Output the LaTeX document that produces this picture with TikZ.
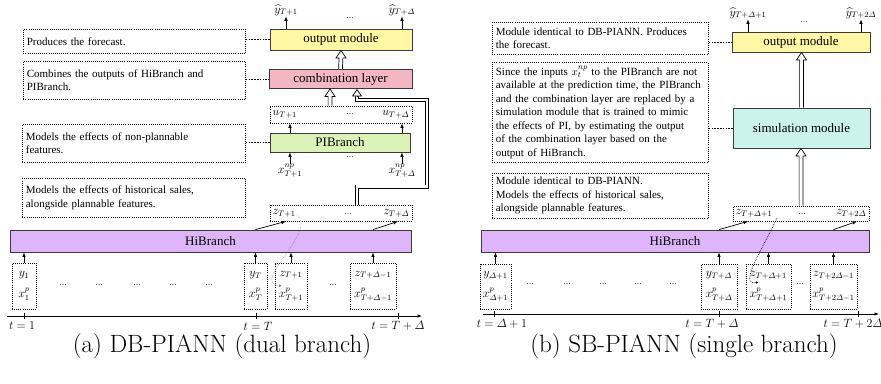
\documentclass[tikz,border=0pt]{standalone}
\usepackage{amsmath}
\usepackage{fontspec}
\newfontfamily\tms{Liberation Serif}
\usetikzlibrary{arrows.meta,calc}
\definecolor{cout}{HTML}{FFF7A3}
\definecolor{ccomb}{HTML}{F4B7C2}
\definecolor{cpib}{HTML}{DCF3B8}
\definecolor{chib}{HTML}{DDB5F8}
\definecolor{csim}{HTML}{CBF3EC}
\definecolor{edge}{HTML}{3A3A3A}
\newcommand\Dl{\varDelta}
% hollow upward arrow from coordinate #1 (tail) to coordinate #2 (tip)
\newcommand\hollowup[2]{%
  \fill[white] ($(#1)+(-1.9,0)$) -- ($(#2)+(-1.9,7.5)$) -- ($(#2)+(-5,7.5)$) -- (#2) -- ($(#2)+(5,7.5)$) -- ($(#2)+(1.9,7.5)$) -- ($(#1)+(1.9,0)$) -- cycle;
  \draw[line width=0.7pt, line join=miter] ($(#1)+(-1.9,0)$) -- ($(#2)+(-1.9,7.5)$) -- ($(#2)+(-5,7.5)$) -- (#2) -- ($(#2)+(5,7.5)$) -- ($(#2)+(1.9,7.5)$) -- ($(#1)+(1.9,0)$);}
\begin{document}
\begin{tikzpicture}[x=1pt,y=-1pt,
  mod/.style={draw=edge, line width=0.8pt, font=\tms\fontsize{13}{15}\selectfont, inner sep=0pt},
  desc/.style={draw=black, dash pattern=on 0.8pt off 1.3pt, line width=0.7pt, anchor=north west, align=left,
     inner xsep=3.5pt, inner ysep=0pt, font=\tms\fontsize{11}{13.5}\selectfont},
  grp/.style={draw=black, dash pattern=on 0.8pt off 1.3pt, line width=0.7pt, inner sep=0pt},
  inp/.style={grp, align=center, font=\fontsize{12}{21}\selectfont},
  lbl/.style={font=\fontsize{12}{14}\selectfont, inner sep=0.5pt},
  dots/.style={font=\tms\fontsize{10}{10}\selectfont, inner sep=0pt, text=black!70},
  arr/.style={-{Latex[length=4.5pt,width=3.5pt]}, line width=0.7pt},
  conn/.style={dash pattern=on 1.6pt off 1.2pt, line width=0.7pt},
  hshaft/.style={draw=black, double=white, double distance=2.4pt, line width=0.7pt},
  htip/.style={line width=0.7pt, -{Triangle[open, fill=white, width=10pt, length=7.5pt]}},
  captxt/.style={font=\fontsize{25}{30}\selectfont, inner sep=0pt}
]
\useasboundingbox (0,0) rectangle (881,383);

% ================= LEFT PANEL =================
\node[mod, fill=cout, minimum width=142pt, minimum height=21pt] (out) at (341,39.5) {output module};
\node[mod, fill=ccomb, minimum width=143pt, minimum height=19pt] (comb) at (340.5,79) {combination layer};
\node[grp, minimum width=142pt, minimum height=17pt] (ubox) at (341,114.5) {};
\node[mod, fill=cpib, minimum width=140pt, minimum height=19pt] (pib) at (340,142.5) {PIBranch};
\node[grp, minimum width=142pt, minimum height=16pt] (zbox) at (341,213) {};
\node[mod, fill=chib, minimum width=401pt, minimum height=22pt] (hib) at (210.5,241) {HiBranch};

% outputs
\node[lbl] (yh1) at (286,10) {$\widehat{y}_{T+1}$};
\node[lbl] (yh2) at (402,10) {$\widehat{y}_{T+\Dl}$};
\node[dots] (dt1) at (350,18) {...};
\draw[arr] (out.north -| yh1.south) -- (yh1.south);
\draw[arr] (out.north -| yh2.south) -- (yh2.south);

% u labels
\node[lbl, anchor=west] (ul1) at (272,114.5) {$u_{T+1}$};
\node[lbl, anchor=east] (ul2) at (410,114.5) {$u_{T+\Dl}$};
\node[dots] (dt2) at (350,114) {...};

% PIBranch inputs
\node[lbl] (xn1) at (290,171) {$x^{np}_{T+1}$};
\node[lbl] (xn2) at (402,171) {$x^{np}_{T+\Dl}$};
\node[dots] (dt3) at (350,157) {...};
\draw[arr] (xn1.north) -- (xn1.north |- pib.south);
\draw[arr] (xn2.north) -- (xn2.north |- pib.south);
\draw[arr] (xn1.north |- pib.north) -- (xn1.north |- ubox.south);
\draw[arr] (xn2.north |- pib.north) -- (xn2.north |- ubox.south);

% z labels
\node[lbl, anchor=west] (zl1) at (272,213) {$z_{T+1}$};
\node[lbl, anchor=east] (zl2) at (410,213) {$z_{T+\Dl}$};
\node[dots] (dt4) at (348,214) {...};

% input boxes
\node[inp, minimum width=24pt, minimum height=46pt] (b1) at (24,286) {$y_1$\\$x^p_1$};
\node[inp, minimum width=23pt, minimum height=46pt] (bT) at (255.5,286) {$y_T$\\$x^p_T$};
\node[inp, minimum width=32pt, minimum height=46pt] (bz1) at (291,286) {$z_{T+1}$\\$x^p_{T+1}$};
\node[inp, minimum width=46pt, minimum height=46pt] (bzD) at (373,286) {$z_{T+\Dl-1}$\\$x^p_{T+\Dl-1}$};
\foreach \xx/\nm in {63/a,99/b,137/c,173/d,209/e,333/f}{\node[dots] (bd\nm) at (\xx,285) {...};}
\foreach \bb in {b1,bT,bz1,bzD}{\draw[arr] (\bb.north) -- (\bb.north |- hib.south);}

% slanted arrows
\coordinate (za1) at ($(zbox.south)+(-55,0)$);
\coordinate (za2) at ($(zbox.south)+(57,0)$);
\draw[arr] (bT.north |- hib.north) -- (za1);
\draw[arr] (bzD.north |- hib.north) -- (za2);

% recurrent dotted curve
\coordinate (cs1) at (297,215);
\coordinate (ce1) at (282,286);
\draw[black!55, densely dotted, line width=0.5pt, -{Latex[length=3pt,width=2.5pt]}] (cs1) .. controls (318,232) and (250,282) .. (ce1);

% hollow arrows
\coordinate (cn) at (comb.north);
\coordinate (oh) at (out.south);
\hollowup{cn}{oh}
\coordinate (uh) at ($(ubox.north)+(-11,0)$);
\coordinate (uhe) at (uh |- comb.south);
\hollowup{uh}{uhe}
\coordinate (zh) at ($(zbox.north)+(16,0)$);
\coordinate (ch) at ($(comb.south)+(16.5,0)$);
\draw[hshaft] (zh) -- ++(0,-18) -- ++(70,0) |- ($(ch)+(0,11)$) -- ($(ch)+(0,7.5)$);
\draw[htip] ($(ch)+(0,7.5)$) -- (ch);

% axis
\coordinate (ax0) at (7,316);
\coordinate (ax1) at (422,316);
\draw[arr] (ax0) -- (ax1);
\foreach \xx in {24,256,398}{\draw[line width=0.5pt] (\xx,313) -- (\xx,319);}
\node[lbl] (t1) at (22,326) {$t=1$};
\node[lbl] (t2) at (258,326) {$t=T$};
\node[lbl] (t3) at (398,326) {$t=T+\Dl$};

% descriptions
\node[desc, text width=215pt, minimum height=24pt] (d1) at (23,29) {Produces the forecast.};
\node[desc, text width=215pt, minimum height=38pt] (d2) at (23,61) {Combines the outputs of HiBranch and\\PIBranch.};
\node[desc, text width=216pt, minimum height=38pt] (d3) at (22,124) {Models the effects of non-plannable\\features.};
\node[desc, text width=216pt, minimum height=39pt] (d4) at (22,178) {Models the effects of historical sales,\\alongside plannable features.};
\draw[conn] (d1.east |- out.west) -- (out.west);
\draw[conn] (d2.east |- comb.west) -- (comb.west);
\draw[conn] (d3.east |- pib.west) -- (pib.west);
\draw[conn] ($(d4.south)+(-5,0)$) -- ($(d4.south)+(-5,0)$ |- hib.north);

\node[captxt] (capa) at (222,346) {(a) DB-PIANN (dual branch)};

% ================= RIGHT PANEL =================
\node[mod, fill=cout, minimum width=138pt, minimum height=20pt] (rout) at (801,42) {output module};
\node[mod, fill=csim, minimum width=137pt, minimum height=40pt] (simmod) at (801.5,128) {simulation module};
\node[grp, minimum width=136pt, minimum height=15pt] (rzbox) at (801,213.5) {};
\node[mod, fill=chib, minimum width=388pt, minimum height=22pt] (rhib) at (675,241) {HiBranch};

\node[lbl] (ryh1) at (748,13) {$\widehat{y}_{T+\Dl+1}$};
\node[lbl] (ryh2) at (861,13) {$\widehat{y}_{T+2\Dl}$};
\node[dots] (rdt1) at (804,22) {...};
\draw[arr] (rout.north -| ryh1.south) -- (ryh1.south);
\draw[arr] (rout.north -| ryh2.south) -- (ryh2.south);

\node[lbl, anchor=west] (rzl1) at (735,213.5) {$z_{T+\Dl+1}$};
\node[lbl, anchor=east] (rzl2) at (867,213.5) {$z_{T+2\Dl}$};
\node[dots] (rdt2) at (802,214) {...};

\node[inp, minimum width=31pt, minimum height=45pt] (c1) at (495.5,286.5) {$y_{\Dl+1}$\\$x^p_{\Dl+1}$};
\node[inp, minimum width=36pt, minimum height=45pt] (c2) at (719,286.5) {$y_{T+\Dl}$\\$x^p_{T+\Dl}$};
\node[inp, minimum width=45pt, minimum height=45pt] (c3) at (768.5,286.5) {$z_{T+\Dl+1}$\\$x^p_{T+\Dl+1}$};
\node[inp, minimum width=47pt, minimum height=45pt] (c4) at (833.5,286.5) {$z_{T+2\Dl-1}$\\$x^p_{T+2\Dl-1}$};
\foreach \xx/\nm in {530/a,567/b,603/c,638/d,673/e,800/f}{\node[dots] (cd\nm) at (\xx,284) {...};}
\foreach \bb in {c1,c2,c3,c4}{\draw[arr] (\bb.north) -- (\bb.north |- rhib.south);}

\coordinate (rza1) at ($(rzbox.south)+(-53,0)$);
\coordinate (rza2) at ($(rzbox.south)+(56,0)$);
\draw[arr] (c2.north |- rhib.north) -- (rza1);
\draw[arr] (c4.north |- rhib.north) -- (rza2);

\coordinate (cs2) at (777,218);
\coordinate (ce2) at (759,282);
\draw[densely dotted, line width=0.7pt, -{Latex[length=3pt,width=2.5pt]}] (cs2) .. controls (762,250) and (738,286) .. (ce2);

\coordinate (rax0) at (483,314);
\coordinate (rax1) at (879,314);
\draw[arr] (rax0) -- (rax1);
\foreach \xx in {494,719,858}{\draw[line width=0.5pt] (\xx,311) -- (\xx,317);}
\node[lbl] (rt1) at (502,324) {$t=\Dl+1$};
\node[lbl] (rt2) at (712,324) {$t=T+\Dl$};
\node[lbl] (rt3) at (853,324) {$t=T+2\Dl$};

\node[desc, text width=209pt, minimum height=32pt] (rd1) at (492,22) {Module identical to DB-PIANN. Produces\\the forecast.};
\node[desc, text width=209pt, minimum height=100pt] (rd2) at (492,62) {Since the inputs $x_t^{np}$ to the PIBranch are not\\available at the prediction time, the PIBranch\\and the combination layer are replaced by a\\simulation module that is trained to mimic\\the effects of PI, by estimating the output\\of the combination layer based on the\\output of HiBranch.};
\node[desc, text width=209pt, minimum height=45pt] (rd3) at (492,173) {Module identical to DB-PIANN.\\Models the effects of historical sales,\\alongside plannable features.};
\draw[conn] (rd1.east |- rout.west) -- (rout.west);
\draw[conn] (rd2.east |- simmod.west) -- (simmod.west);
\draw[conn] ($(rd3.south)+(-2,0)$) -- ($(rd3.south)+(-2,0)$ |- rhib.north);

\node[captxt] (capb) at (684,346) {(b) SB-PIANN (single branch)};

% right hollow arrows (drawn last)
\coordinate (sh1) at (simmod.north);
\coordinate (sh2) at (simmod.north |- rout.south);
\hollowup{sh1}{sh2}
\coordinate (sh3) at (rzbox.north);
\coordinate (sh4) at (rzbox.north |- simmod.south);
\hollowup{sh3}{sh4}
\end{tikzpicture}
\end{document}
